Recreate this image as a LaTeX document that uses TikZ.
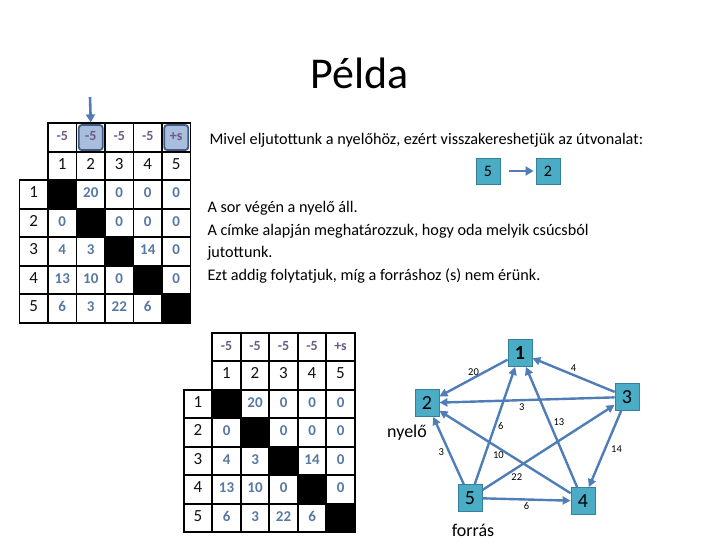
\documentclass[tikz,border=0pt]{standalone}
\usepackage{fontspec}
\setmainfont{Carlito}[Numbers=Lining]
\usetikzlibrary{arrows.meta,backgrounds,positioning}
\definecolor{gridText}{HTML}{111111}
\definecolor{headText}{HTML}{6C5A86}
\definecolor{valueText}{HTML}{5878A4}
\definecolor{markFill}{HTML}{A9BEDC}
\definecolor{markBorder}{HTML}{3F5B82}
\definecolor{edgeColor}{HTML}{4F7DB8}
\definecolor{vertexFill}{HTML}{4BACC6}
\definecolor{vertexBorder}{HTML}{35809A}
\newcommand{\costtable}[1]{%
  \foreach \c/\h in {1/-5,2/-5,3/-5,4/-5,5/+s} {
    \node[cell, head] (#1-h\c) at ({(\c-0.5)*28.5}, 14.25) {\h};
    \node[cell] (#1-c\c) at ({(\c-0.5)*28.5}, 42.75) {\c};
  }
  \foreach \r/\vals in {1/{x,20,0,0,0},2/{0,x,0,0,0},3/{4,3,x,14,0},4/{13,10,0,x,0},5/{6,3,22,6,x}} {
    \node[cell] (#1-r\r) at (-14.25, {(\r+1.5)*28.5}) {\r};
    \foreach \v [count=\c] in \vals {
      \ifnum\r=\c
        \node[cell, fill=black] (#1-\r-\c) at ({(\c-0.5)*28.5}, {(\r+1.5)*28.5}) {};
      \else
        \node[cell, value] (#1-\r-\c) at ({(\c-0.5)*28.5}, {(\r+1.5)*28.5}) {\v};
      \fi
    }
  }
}

\begin{document}
\begin{tikzpicture}[
  x=1pt, y=-1pt,
  >=Latex,
  cell/.style={
    draw=black,
    text=gridText,
    line width=1.8pt,
    minimum width=28.5pt,
    minimum height=28.5pt,
    inner sep=0pt,
    text height=0.63em,
    text depth=0pt,
    font=\fontsize{17}{17}\selectfont
  },
  head/.style={text=headText, font=\fontsize{14}{14}\selectfont\bfseries},
  value/.style={text=valueText, font=\fontsize{15}{15}\selectfont\bfseries},
  markbox/.style={
    draw=markBorder,
    fill=markFill,
    rounded corners=3pt,
    line width=1.8pt,
    minimum width=24pt,
    minimum height=25pt
  },
  vertex/.style={
    draw=vertexBorder,
    fill=vertexFill,
    text=black,
    line width=0.8pt,
    minimum width=24pt,
    minimum height=27pt,
    inner sep=0pt,
    font=\fontsize{20}{20}\selectfont
  },
  tinyvertex/.style={vertex, minimum height=26pt, font=\fontsize{16}{16}\selectfont},
  edge/.style={->, >={Triangle[length=8pt,width=8pt]}, draw=edgeColor, line width=2.4pt},
  pointer/.style={->, >={Triangle[length=8pt,width=9pt]}, draw=edgeColor, line width=2.6pt},
  weight/.style={text=black, inner sep=1pt, font=\fontsize{10.5}{10.5}\selectfont},
  caption/.style={text=black, font=\fontsize{18}{18}\selectfont},
  body/.style={text=black, align=left, font=\fontsize{16.2}{22.5}\selectfont}
]
\useasboundingbox (0,0) rectangle (720,540);

\node[font=\fontsize{44}{44}\selectfont] (title) at (360,73) {Példa};

% first table, with the marked labels
\begin{scope}[shift={(48,123.3)}]
  \costtable{top}
  \begin{scope}[on background layer]
    \node[markbox] (top-mark2) at (top-h2) {};
    \node[markbox] (top-mark5) at (top-h5) {};
  \end{scope}
\end{scope}
\coordinate (top-pointer) at (90,97);
\draw[pointer] (top-pointer) -- (top-h2.north);

% text
\node[anchor=west, text=black, font=\fontsize{16.2}{16.2}\selectfont] (intro) at (206,140)
  {Mivel eljutottunk a nyelőhöz, ezért visszakereshetjük az útvonalat:};
\node[tinyvertex] (path-5) at (488,171) {5};
\node[tinyvertex] (path-2) at (548,171) {2};
\draw[pointer, line width=2.4pt, shorten <=9pt, shorten >=2pt] (path-5) -- (path-2);
\node[body, anchor=north west] (steps) at (204,198)
  {A sor végén a nyelő áll.\\
   A címke alapján meghatározzuk, hogy oda melyik csúcsból\\
   jutottunk.\\
   Ezt addig folytatjuk, míg a forráshoz (s) nem érünk.};

% second table
\begin{scope}[shift={(212.3,332.7)}]
  \costtable{low}
\end{scope}

% graph
\node[vertex, font=\fontsize{20}{20}\selectfont\bfseries] (graph-n1) at (520,353) {1};
\node[vertex] (graph-n2) at (427,403) {2};
\node[vertex] (graph-n3) at (627,397) {3};
\node[vertex] (graph-n4) at (583,501) {4};
\node[vertex] (graph-n5) at (470,498) {5};
\node[caption] (sink) at (407,433) {nyelő};
\node[caption] (source) at (473,530) {forrás};

\draw[edge] (graph-n1) -- node[weight, pos=.5, above=0pt] {20} (graph-n2);
\draw[edge] (graph-n3) -- node[weight, pos=.5, above=1pt] {4} (graph-n1);
\draw[edge] (graph-n3) -- node[weight, pos=.53, below=1pt] {3} (graph-n2);
\draw[edge] (graph-n3) -- node[weight, pos=.5, right=4pt] {14} (graph-n4);
\draw[edge] (graph-n4) -- node[weight, pos=.54, right=2pt] {13} (graph-n1);
\draw[edge] (graph-n4) -- node[weight, pos=.55, below=2pt] {10} (graph-n2);
\draw[edge] (graph-n5) -- node[weight, pos=.5, right=1pt] {6} (graph-n1);
\draw[edge] (graph-n5) -- node[weight, pos=.48, left=3pt] {3} (graph-n2);
\draw[edge] (graph-n5) -- node[weight, pos=.26, below=4pt] {22} (graph-n3);
\draw[edge] (graph-n5) -- node[weight, pos=.5, below=1pt] {6} (graph-n4);

\end{tikzpicture}
\end{document}
